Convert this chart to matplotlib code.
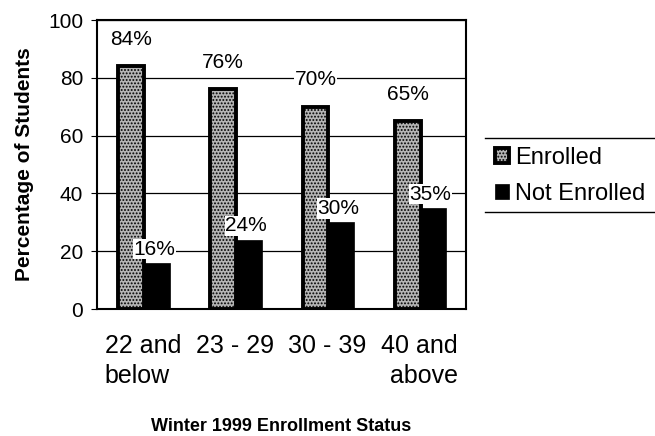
import matplotlib
matplotlib.use("Agg")
import matplotlib.pyplot as plt
import numpy as np
from matplotlib.lines import Line2D

categories = ["22 and\nbelow", "23 - 29", "30 - 39", "40 and\nabove"]
enrolled = [84, 76, 70, 65]
not_enrolled = [16, 24, 30, 35]
series_names = ["Enrolled", "Not Enrolled"]
yticks = [0, 20, 40, 60, 80, 100]

plt.rcParams['font.family'] = ['Liberation Sans', 'DejaVu Sans']
plt.rcParams['hatch.color'] = '#2a2a2a'
plt.rcParams['hatch.linewidth'] = 0.9

fig = plt.figure(figsize=(6.55, 4.36), dpi=100)
ax = fig.add_axes([0.148, 0.291, 0.563, 0.663])

x = np.arange(len(categories))
w = 0.28
b1 = ax.bar(x - 0.13, enrolled, w, facecolor='#b5b5b5', edgecolor='black',
            linewidth=2.8, hatch='.....', label=series_names[0], zorder=3)
b2 = ax.bar(x + 0.15, not_enrolled, w, facecolor='black', edgecolor='black',
            linewidth=0.5, label=series_names[1], zorder=3)

for rect, v in zip(b1, enrolled):
    ax.text(rect.get_x() + rect.get_width() / 2, v + 6, f"{v}%",
            ha='center', va='bottom', fontsize=15, zorder=4,
            bbox=dict(facecolor='white', edgecolor='none', pad=0.5))
for rect, v in zip(b2, not_enrolled):
    ax.text(rect.get_x() + rect.get_width() / 2 - 0.03, v + 1.5, f"{v}%",
            ha='center', va='bottom', fontsize=15, zorder=4,
            bbox=dict(facecolor='white', edgecolor='none', pad=0.5))

ax.set_ylim(0, 100)
ax.set_xlim(-0.5, len(categories) - 0.5)
ax.set_yticks(yticks)
ax.set_yticklabels([str(t) for t in yticks], fontsize=15)
ax.yaxis.grid(True, color='black', linewidth=0.9, zorder=0)
ax.set_axisbelow(True)
ax.set_xticks(x)
labels = ax.set_xticklabels(categories, fontsize=18, linespacing=1.3)
for lab, al in zip(labels, ['left', 'center', 'center', 'right']):
    lab.set_multialignment(al)
ax.tick_params(axis='x', length=0, pad=18)
ax.tick_params(axis='y', length=4, direction='out', pad=6)
for s in ax.spines.values():
    s.set_linewidth(1.5)
    s.set_color('black')

ax.set_ylabel("Percentage of Students", fontsize=15, fontweight='bold', labelpad=10)
ax.set_xlabel("Winter 1999 Enrollment Status", fontsize=13, fontweight='bold', labelpad=22)

leg = fig.legend(handles=[b1, b2], labels=series_names, loc='center left',
                 bbox_to_anchor=(0.73, 0.597), frameon=False, fontsize=17,
                 handlelength=0.6, handleheight=0.6, handletextpad=0.25,
                 labelspacing=0.6, borderpad=0.2)
fig.add_artist(Line2D([0.74, 1.0], [0.683, 0.683], color='black', lw=1.0,
                      transform=fig.transFigure))
fig.add_artist(Line2D([0.74, 1.0], [0.513, 0.513], color='black', lw=1.0,
                      transform=fig.transFigure))

fig.savefig("out.png", dpi=100)
